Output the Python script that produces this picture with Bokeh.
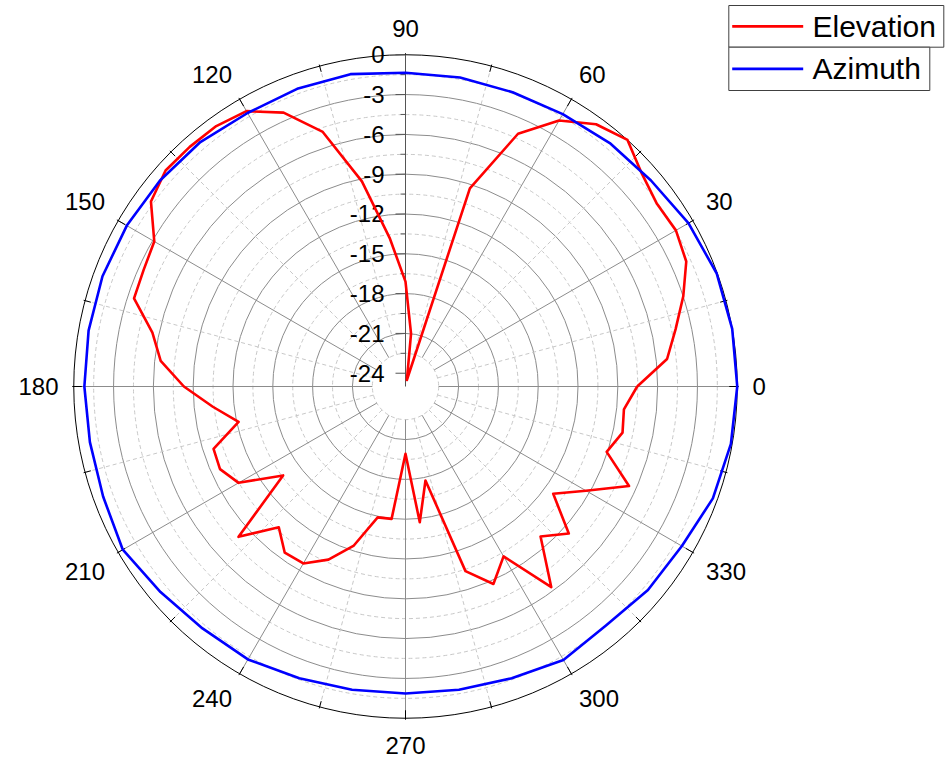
import numpy as np
from bokeh.plotting import figure
from bokeh.models import ColumnDataSource
from bokeh.core.properties import value
from bokeh.embed import file_html
from bokeh.resources import INLINE

# ---------------- data ----------------
elev_angle = list(range(0, 360, 6))
elev_db = [-7.54, -5.18, -4.19, -2.99, -1.84, -1.47, -1.58, -1.03, 0.0, -0.57,
           -1.85, -4.15, -9.3, -24.5, -21.0, -17.1, -13.8, -9.2, -4.83, -2.41,
           -1.04, -0.74, -0.7, -0.67, -1.29, -3.14, -3.4, -3.49, -5.5, -6.45,
           -8.3, -10.4, -12.14, -9.79, -9.7, -10.48, -13.6, -8.07, -10.73, -9.52,
           -9.6, -10.72, -12.4, -14.92, -14.97, -19.93, -14.71, -17.76, -10.37, -8.71,
           -10.22, -6.31, -9.79, -8.44, -11.24, -9.3, -6.56, -9.06, -8.28, -8.45]

azim_angle = list(range(0, 360, 10))
azim_db = [0.0, 0.0, -0.05, -0.38, -0.85, -1.05, -1.3, -1.4, -1.35, -1.36,
           -1.1, -1.13, -1.2, -0.95, -0.85, -0.75, -0.7, -0.75, -0.8, -0.85,
           -0.75, -0.4, -0.9, -1.2, -1.25, -1.6, -1.8, -1.86, -1.8, -1.6,
           -1.2, -1.5, -1.15, -0.95, -0.35, -0.1]

r_ticks = [0, -3, -6, -9, -12, -15, -18, -21, -24]
angle_ticks = [0, 30, 60, 90, 120, 150, 180, 210, 240, 270, 300, 330]
series_names = ["Elevation", "Azimuth"]
series_colors = ["#ff0000", "#0000ff"]

# ---------------- layout ----------------
R_MIN = -25.0          # centre of the polar plot (dB)
K = 13.27              # pixels per dB
CX, CY = 405.0, 386.0  # centre in picture pixels
W, H = 946, 758
FONT = "Liberation Sans"


def polar(deg, db):
    th = np.radians(np.asarray(deg, dtype=float))
    r = np.asarray(db, dtype=float) - R_MIN
    return r * np.cos(th), r * np.sin(th)


def px(sx, sy):
    return (sx - CX) / K, (CY - sy) / K


p = figure(width=W, height=H,
           x_range=((0 - CX) / K, (W - CX) / K),
           y_range=((CY - H) / K, (CY - 0) / K),
           output_backend="svg", toolbar_location=None,
           x_axis_location=None, y_axis_location=None,
           min_border=0, outline_line_color=None)
p.grid.visible = False
p.background_fill_color = "white"

# rings
minor_r = np.arange(-22.5, 0, 3.0)
major_r = np.arange(-21, 0, 3.0)
p.circle(x=[0] * len(minor_r), y=[0] * len(minor_r), radius=list(minor_r - R_MIN),
         fill_color=None, line_color="#c8c8c8", line_dash="4 3", line_width=1)
p.circle(x=[0] * len(major_r), y=[0] * len(major_r), radius=list(major_r - R_MIN),
         fill_color=None, line_color="#8c8c8c", line_width=1)

# spokes
inner_db = -22.5
for a in range(0, 360, 15):
    x0, y0 = polar([a], [inner_db])
    x1, y1 = polar([a], [0])
    if a % 30 == 0:
        p.segment(x0=x0, y0=y0, x1=x1, y1=y1, line_color="#8c8c8c", line_width=1)
    else:
        p.segment(x0=x0, y0=y0, x1=x1, y1=y1, line_color="#c8c8c8", line_width=1,
                  line_dash="4 3")

# outer ring and its ticks
p.circle(x=[0], y=[0], radius=[0 - R_MIN], fill_color=None, line_color="black",
         line_width=1)
for a in range(0, 360, 15):
    ln = 8 if a % 30 == 0 else 6
    x0, y0 = polar([a], [0 - ln / K])
    x1, y1 = polar([a], [0 + 1.5 / K])
    p.segment(x0=x0, y0=y0, x1=x1, y1=y1, line_color="black", line_width=1)

# radial axis
p.segment(x0=[0], y0=[0], x1=[0], y1=[0 - R_MIN], line_color="#555555", line_width=1)
maj = np.array(r_ticks, dtype=float)
mnr = np.arange(-22.5, 0, 3.0)
p.segment(x0=[-10 / K] * len(maj), y0=list(maj - R_MIN), x1=[0] * len(maj),
          y1=list(maj - R_MIN), line_color="#555555", line_width=1)
p.segment(x0=[-5 / K] * len(mnr), y0=list(mnr - R_MIN), x1=[0] * len(mnr),
          y1=list(mnr - R_MIN), line_color="#555555", line_width=1)
p.text(x=[0] * len(maj), y=list(maj - R_MIN), text=[str(int(v)) for v in r_ticks],
       x_offset=-21, text_align="right", text_baseline="middle",
       text_font=value(FONT), text_font_size="24px", text_color="black")

# angular labels: anchored outside the ring, offset by half the text box
lx, ly = [], []
for a in angle_ticks:
    s = str(a)
    w = len(s) * 0.556 * 24
    th = np.radians(a)
    c, sn = np.cos(th), np.sin(th)
    sx = 0 if abs(c) < 1e-6 else np.sign(c)
    sy = 0 if abs(sn) < 1e-6 else np.sign(sn)
    xp = 347 * c + sx * w / 2
    yp = 347 * sn + sy * 11.5
    lx.append(xp / K)
    ly.append(yp / K)
p.text(x=lx, y=ly, text=[str(a) for a in angle_ticks], text_align="center",
       text_baseline="middle", text_font=value(FONT), text_font_size="24px",
       text_color="black")

# data curves (closed)
ex, ey = polar(elev_angle + [elev_angle[0]], elev_db + [elev_db[0]])
ax, ay = polar(azim_angle + [azim_angle[0]], azim_db + [azim_db[0]])
p.line(ex, ey, line_color=series_colors[0], line_width=2.6, line_join="round")
p.line(ax, ay, line_color=series_colors[1], line_width=2.6, line_join="round")

# legend (two stacked boxes)
boxes = [(728.3, 943.3, 5.0, 46.7), (728.3, 929.3, 46.7, 90.0)]
for (l, r, t, b), name, col in zip(boxes, series_names, series_colors):
    xl, yt = px(l, t)
    xr, yb = px(r, b)
    p.quad(left=[xl], right=[xr], top=[yt], bottom=[yb], fill_color="white",
           line_color="#404040", line_width=1)
    yc = (t + b) / 2
    sx0, sy = px(731.7, yc)
    sx1, _ = px(802.7, yc)
    p.segment(x0=[sx0], y0=[sy], x1=[sx1], y1=[sy], line_color=col, line_width=2.6)
    tx, _ = px(812.0, yc)
    p.text(x=[tx], y=[sy], text=[name], text_align="left", text_baseline="middle",
           text_font=value(FONT), text_font_size="30px", text_color="black")

open("out.html", "w").write(file_html(p, INLINE))
